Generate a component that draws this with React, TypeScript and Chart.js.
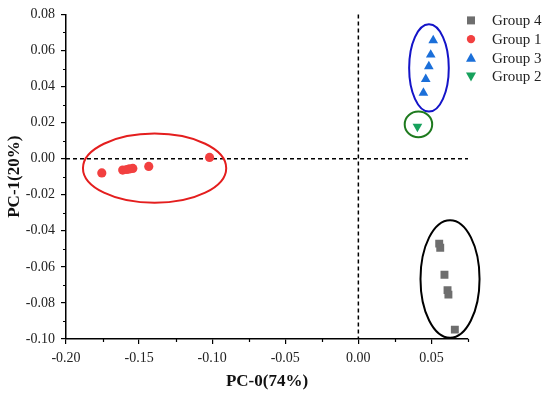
import React, { useEffect, useRef } from 'react';
import { Chart, registerables } from 'chart.js';
Chart.register(...registerables);

const FONT = "'Liberation Serif', 'Times New Roman', serif";

const seriesNames = ['Group 4', 'Group 1', 'Group 3', 'Group 2'];
const seriesColors = ['#6e6e6e', '#f24040', '#1b6fd9', '#17a15c'];
const seriesStyles = ['rect', 'circle', 'triangle', 'triangle'];
const seriesRotation = [0, 0, 0, 180];
const seriesRadius = [5.6, 4.6, 5.6, 5.6];

const group4X = [0.0553, 0.056, 0.0589, 0.061, 0.0616, 0.066];
const group4Y = [-0.0471, -0.0494, -0.0644, -0.0729, -0.0754, -0.0948];
const group1X = [-0.1755, -0.1612, -0.1584, -0.1566, -0.1543, -0.1434, -0.1018];
const group1Y = [-0.0079, -0.0063, -0.006, -0.0057, -0.0054, -0.0043, 0.0007];
const group3X = [0.0512, 0.0495, 0.0482, 0.0461, 0.0445];
const group3Y = [0.0656, 0.0576, 0.0512, 0.0441, 0.0365];
const group2X = [0.0404];
const group2Y = [0.0178];

// confidence ellipses (data units)
const ellipseCX = [-0.1394, 0.0483, 0.0411, 0.0627];
const ellipseCY = [-0.0053, 0.0503, 0.019, -0.0667];
const ellipseRX = [0.049, 0.01356, 0.0094, 0.0202];
const ellipseRY = [0.0192, 0.0242, 0.0071, 0.0326];
const ellipseColors = ['#e41e1e', '#1414c8', '#1e7a1e', '#000000'];

const xMin = -0.2, xMax = 0.075, xStep = 0.05;
const yMin = -0.1, yMax = 0.08, yStep = 0.02;
const xTitle = 'PC-0(74%)';
const yTitle = 'PC-1(20%)';

const fmt = (v: any) => {
  const n = Number(v);
  return Math.abs(n) < 1e-9 ? '0.00' : n.toFixed(2);
};

export default function App() {
  const ref = useRef<HTMLCanvasElement>(null);
  useEffect(() => {
    const xs = [group4X, group1X, group3X, group2X];
    const ysArr = [group4Y, group1Y, group3Y, group2Y];
    const datasets = seriesNames.map((name, i) => ({
      label: name,
      data: xs[i].map((x, j) => ({ x, y: ysArr[i][j] })),
      pointStyle: seriesStyles[i] as any,
      rotation: seriesRotation[i],
      pointRadius: seriesRadius[i],
      backgroundColor: seriesColors[i],
      borderColor: seriesColors[i],
      borderWidth: 0,
    }));

    const overlay = {
      id: 'overlay',
      beforeDatasetsDraw(chart: any) {
        const { ctx, chartArea } = chart;
        const sx = chart.scales.x, sy = chart.scales.y;
        ctx.save();
        // dashed reference lines
        ctx.strokeStyle = '#000';
        ctx.lineWidth = 1.5;
        ctx.setLineDash([4, 3]);
        const x0 = sx.getPixelForValue(0);
        const y0 = sy.getPixelForValue(0);
        ctx.beginPath();
        ctx.moveTo(x0, chartArea.top);
        ctx.lineTo(x0, chartArea.bottom);
        ctx.moveTo(chartArea.left, y0);
        ctx.lineTo(chartArea.right, y0);
        ctx.stroke();
        ctx.setLineDash([]);
        // ellipses
        ctx.lineWidth = 2;
        ellipseCX.forEach((cx, i) => {
          const px = sx.getPixelForValue(cx);
          const py = sy.getPixelForValue(ellipseCY[i]);
          const rx = Math.abs(sx.getPixelForValue(cx + ellipseRX[i]) - px);
          const ry = Math.abs(sy.getPixelForValue(ellipseCY[i] + ellipseRY[i]) - py);
          ctx.strokeStyle = ellipseColors[i];
          ctx.beginPath();
          ctx.ellipse(px, py, rx, ry, 0, 0, Math.PI * 2);
          ctx.stroke();
        });
        ctx.restore();
      },
      afterDraw(chart: any) {
        const { ctx, chartArea } = chart;
        const sx = chart.scales.x, sy = chart.scales.y;
        ctx.save();
        // minor ticks
        ctx.strokeStyle = '#000';
        ctx.lineWidth = 1.2;
        ctx.beginPath();
        const nx = Math.round((xMax - xMin) / (xStep / 2));
        for (let k = 1; k <= nx; k += 2) {
          const v = xMin + (k * xStep) / 2;
          const p = Math.round(sx.getPixelForValue(v)) + 0.5;
          ctx.moveTo(p, chartArea.bottom);
          ctx.lineTo(p, chartArea.bottom + 3);
        }
        const ny = Math.round((yMax - yMin) / (yStep / 2));
        for (let k = 1; k < ny; k += 2) {
          const v = yMin + (k * yStep) / 2;
          const p = Math.round(sy.getPixelForValue(v)) + 0.5;
          ctx.moveTo(chartArea.left, p);
          ctx.lineTo(chartArea.left - 3, p);
        }
        ctx.stroke();
        // legend
        const mx = chartArea.right + 3;
        const tx = chartArea.right + 24;
        const y0 = chartArea.top + 6;
        const dy = 18.7;
        ctx.font = `15px ${FONT}`;
        ctx.textBaseline = 'middle';
        ctx.textAlign = 'left';
        seriesNames.forEach((name, i) => {
          const y = y0 + i * dy;
          ctx.fillStyle = seriesColors[i];
          ctx.beginPath();
          if (seriesStyles[i] === 'rect') {
            ctx.rect(mx - 4, y - 4, 8, 8);
          } else if (seriesStyles[i] === 'circle') {
            ctx.arc(mx, y, 4.2, 0, Math.PI * 2);
          } else if (seriesRotation[i] === 0) {
            ctx.moveTo(mx, y - 5);
            ctx.lineTo(mx + 5, y + 4);
            ctx.lineTo(mx - 5, y + 4);
            ctx.closePath();
          } else {
            ctx.moveTo(mx, y + 5);
            ctx.lineTo(mx + 5, y - 4);
            ctx.lineTo(mx - 5, y - 4);
            ctx.closePath();
          }
          ctx.fill();
          ctx.fillStyle = '#222';
          ctx.fillText(name, tx, y + 1);
        });
        ctx.restore();
      },
    };

    const axisCommon = {
      type: 'linear' as const,
      border: { display: true, color: '#000', width: 1.5 },
      grid: { display: true, drawOnChartArea: false, drawTicks: true, tickLength: 5, color: '#000', lineWidth: 1.2 },
    };

    const chart = new Chart(ref.current!, {
      type: 'scatter',
      data: { datasets },
      plugins: [overlay],
      options: {
        animation: false,
        responsive: true,
        maintainAspectRatio: false,
        layout: { padding: { top: 14, right: 82, left: 0, bottom: 0 } },
        plugins: { legend: { display: false }, tooltip: { enabled: false } },
        scales: {
          x: {
            ...axisCommon,
            min: xMin,
            max: xMax,
            ticks: {
              stepSize: xStep,
              includeBounds: false,
              autoSkip: false,
              maxRotation: 0,
              color: '#222',
              padding: 6,
              font: { family: FONT, size: 14 },
              callback: fmt,
            },
            title: {
              display: true,
              text: xTitle,
              color: '#111',
              font: { family: FONT, size: 17, weight: 'bold' },
              padding: { top: 0, bottom: 5 },
            },
            afterFit: (s: any) => { s.height = 58; },
          },
          y: {
            ...axisCommon,
            min: yMin,
            max: yMax,
            ticks: {
              stepSize: yStep,
              includeBounds: false,
              autoSkip: false,
              color: '#222',
              padding: 6,
              font: { family: FONT, size: 14 },
              callback: fmt,
            },
            title: {
              display: true,
              text: yTitle,
              color: '#111',
              font: { family: FONT, size: 17, weight: 'bold' },
              padding: { top: 4, bottom: 0 },
            },
            afterFit: (s: any) => { s.width = 66; },
          },
        },
      } as any,
    });
    return () => chart.destroy();
  }, []);

  return (
    <div style={{ position: 'fixed', left: 0, top: 0, width: 550, height: 397, background: '#fff' }}>
      <canvas ref={ref} />
    </div>
  );
}
